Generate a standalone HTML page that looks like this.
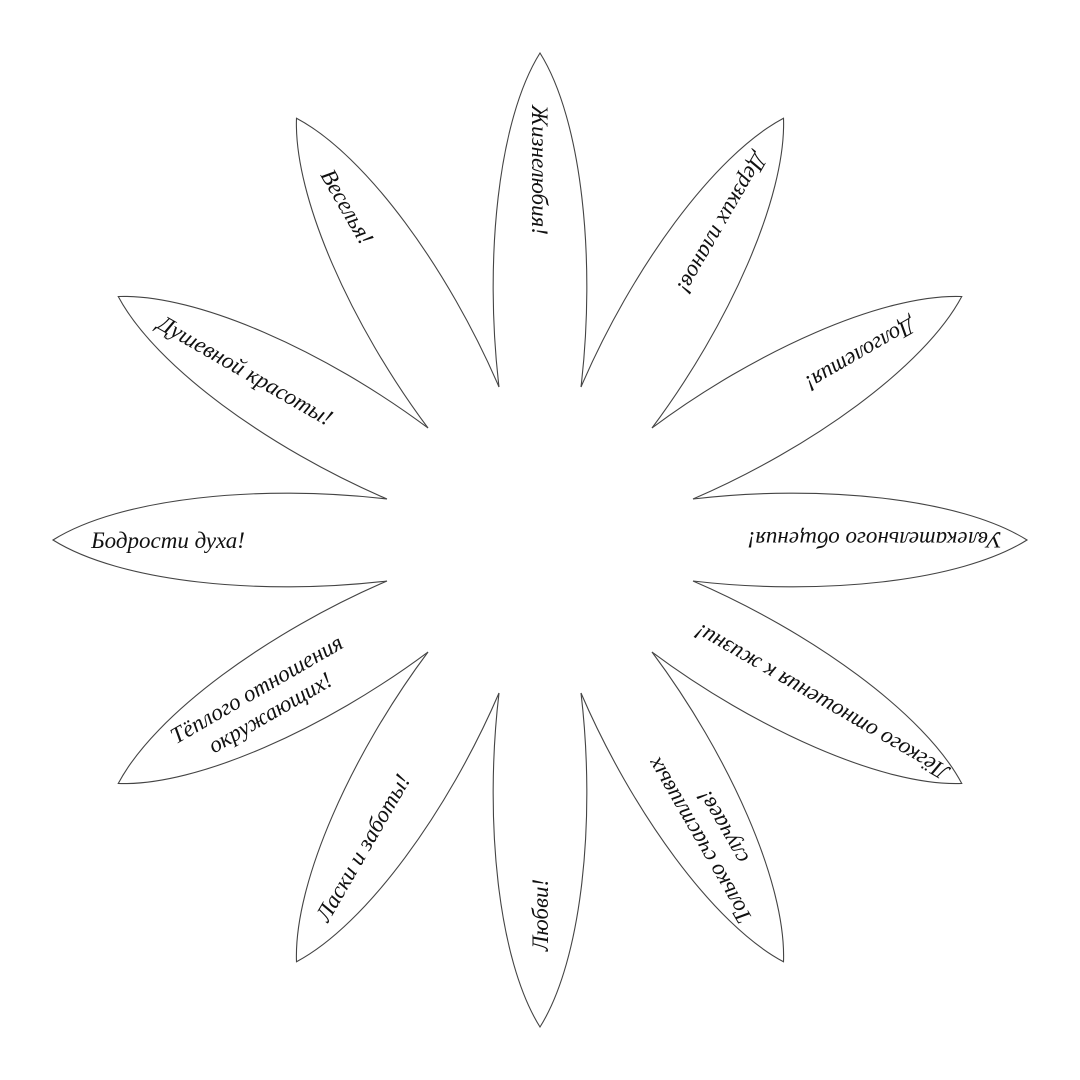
<!DOCTYPE html>
<html><head><meta charset="utf-8"><style>
html,body{margin:0;padding:0;background:#fff}
svg{display:block}
text{font-family:"Liberation Serif",serif;font-style:italic;font-size:23px;fill:#111}
</style></head><body>
<svg width="1080" height="1080" viewBox="0 0 1080 1080">
<defs>
<path id="p" d="M -41 -153 C -56 -280 -42 -420 0 -487 C 42 -420 56 -280 41 -153" fill="none" stroke="#444" stroke-width="1.1"/>
</defs>
<g transform="translate(540,540)">
<use href="#p" transform="rotate(0)"/>
<use href="#p" transform="rotate(30)"/>
<use href="#p" transform="rotate(60)"/>
<use href="#p" transform="rotate(90)"/>
<use href="#p" transform="rotate(120)"/>
<use href="#p" transform="rotate(150)"/>
<use href="#p" transform="rotate(180)"/>
<use href="#p" transform="rotate(210)"/>
<use href="#p" transform="rotate(240)"/>
<use href="#p" transform="rotate(270)"/>
<use href="#p" transform="rotate(300)"/>
<use href="#p" transform="rotate(330)"/>
<g text-anchor="middle">
<g transform="rotate(0) translate(0,-370) rotate(90)"><text x="0" y="8">Жизнелюбия!</text></g>
<g transform="rotate(30) translate(0,-365) rotate(90)"><text x="0" y="8">Дерзких планов!</text></g>
<g transform="rotate(60) translate(0,-370) rotate(90)"><text x="0" y="8">Долголетия!</text></g>
<g transform="rotate(90) translate(0,-335) rotate(90)"><text x="0" y="8">Увлекательного общения!</text></g>
<g transform="rotate(120) translate(0,-325) rotate(90)"><text x="0" y="8">Лёгкого отношения к жизни!</text></g>
<g transform="rotate(150) translate(0,-340) rotate(90)"><text x="0" y="-5">Только счастливых</text><text x="0" y="22">случаев!</text></g>
<g transform="rotate(180) translate(0,-375) rotate(90)"><text x="0" y="8">Любви!</text></g>
<g transform="rotate(210) translate(0,-355) rotate(90)"><text x="0" y="8">Ласки и заботы!</text></g>
<g transform="rotate(240) translate(0,-320) rotate(90)"><text x="0" y="-5">Тёплого отношения</text><text x="0" y="22">окружающих!</text></g>
<g transform="rotate(270) translate(0,-372) rotate(90)"><text x="0" y="8">Бодрости духа!</text></g>
<g transform="rotate(300) translate(0,-340) rotate(90)"><text x="0" y="8">Душевной красоты!</text></g>
<g transform="rotate(330) translate(0,-385) rotate(90)"><text x="0" y="8">Веселья!</text></g>
</g>
</g>
</svg>
</body></html>
